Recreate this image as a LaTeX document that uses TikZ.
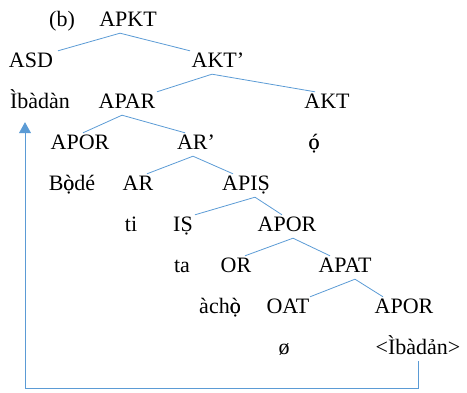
\documentclass[tikz,border=0pt]{standalone}
\usepackage{fontspec}
\setmainfont{Liberation Serif}
\usetikzlibrary{arrows.meta}
\definecolor{lineblue}{RGB}{91,155,213}
\newcommand\ogd{\ooalign{ò\cr ọ}}
\newcommand\oad{\ooalign{ó\cr ọ}}
\begin{document}
\begin{tikzpicture}[x=1pt,y=-1pt,
  lab/.style={anchor=base,inner sep=2pt,text height=15pt,text depth=4pt,font=\fontsize{22}{26}\selectfont},
  branch/.style={draw=lineblue,line width=0.8pt},
  move/.style={draw=lineblue,line width=0.8pt,-{Triangle[width=12pt,length=11pt]}}]
\useasboundingbox (0,0) rectangle (467,393);
% row 1
\node[lab] (b) at (62,27) {(b)};
\node[lab] (APKT) at (128,27) {APKT};
% row 2
\node[lab] (ASD) at (31,68) {ASD};
\node[lab] (AKTp) at (218,68) {AKT’};
% row 3
\node[lab] (ib1) at (40,109) {Ìbàdàn};
\node[lab] (APAR) at (127,109) {APAR};
\node[lab] (AKT) at (327,109) {AKT};
% row 4
\node[lab] (APOR1) at (80,150) {APOR};
\node[lab] (ARp) at (196,150) {AR’};
\node[lab] (o) at (314,150) {\oad};
% row 5
\node[lab] (bode) at (72,191) {B\ogd dé};
\node[lab] (AR) at (138,191) {AR};
\node[lab] (APIS) at (246,191) {APIṢ};
% row 6
\node[lab] (ti) at (131,232) {ti};
\node[lab] (IS) at (183,232) {IṢ};
\node[lab] (APOR2) at (287,232) {APOR};
% row 7
\node[lab] (ta) at (182,273) {ta};
\node[lab] (OR) at (236,273) {OR};
\node[lab] (APAT) at (345,273) {APAT};
% row 8
\node[lab] (acho) at (220,314) {àch\ogd};
\node[lab] (OAT) at (288,314) {OAT};
\node[lab] (APOR3) at (404,314) {APOR};
% row 9
\node[lab] (null) at (284,355) {ø};
\node[lab] (ib2) at (418,355) {<Ìbàdản>};
% branches
\draw[branch] ([xshift=27]ASD.north) -- ([xshift=-8]APKT.south) -- ([xshift=-28]AKTp.north);
\draw[branch] ([xshift=30]APAR.north) -- ([xshift=-6]AKTp.south) -- ([xshift=-12]AKT.north);
\draw[branch] ([xshift=3]APOR1.north) -- ([xshift=-5]APAR.south) -- ([xshift=-11]ARp.north);
\draw[branch] ([xshift=9]AR.north) -- ([xshift=-3]ARp.south) -- ([xshift=-13]APIS.north);
\draw[branch] ([xshift=12]IS.north) -- ([xshift=9]APIS.south) -- ([xshift=-5]APOR2.north);
\draw[branch] ([xshift=9]OR.north) -- ([xshift=6]APOR2.south) -- ([xshift=-15]APAT.north);
\draw[branch] ([xshift=22]OAT.north) -- ([xshift=10]APAT.south) -- ([xshift=-21]APOR3.north);
% movement
\coordinate (mv) at (25,388);
\draw[move,shorten >=7pt] (ib2.south) |- (mv) -- (mv |- ib1.south);
\end{tikzpicture}
\end{document}
